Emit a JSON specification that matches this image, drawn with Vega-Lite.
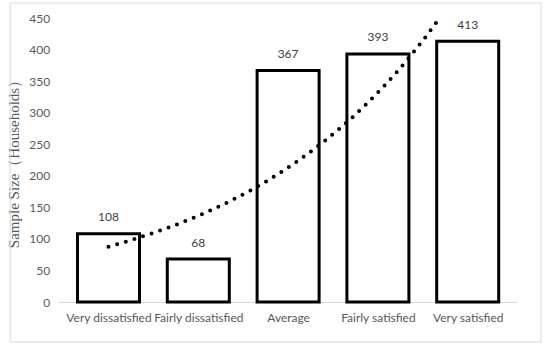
{
  "$schema": "https://vega.github.io/schema/vega-lite/v6.json",
  "width": 459,
  "height": 284,
  "autosize": {"type": "none"},
  "padding": {"left": 58.6, "top": 18, "right": 32.4, "bottom": 45},
  "background": "white",
  "config": {
    "view": {"stroke": null},
    "axisY": {
      "grid": false,
      "ticks": false,
      "domain": false,
      "labelFont": "Lato",
      "labelFontSize": 12,
      "labelColor": "#595959",
      "labelPadding": 9,
      "labelOverlap": false,
      "labelFlush": false,
      "titleFont": "Liberation Serif",
      "titleFontSize": 15,
      "titleFontWeight": "normal",
      "titleColor": "#595959",
      "titlePadding": 7
    }
  },
  "data": {
    "values": [
      {"idx": 1, "category": "Very dissatisfied", "households": 108},
      {"idx": 2, "category": "Fairly dissatisfied", "households": 68},
      {"idx": 3, "category": "Average", "households": 367},
      {"idx": 4, "category": "Fairly satisfied", "households": 393},
      {"idx": 5, "category": "Very satisfied", "households": 413}
    ]
  },
  "layer": [
    {
      "mark": {"type": "bar", "fill": "white", "stroke": "black", "strokeWidth": 3, "size": 62},
      "encoding": {
        "x": {
          "field": "idx",
          "type": "quantitative",
          "scale": {"domain": [0.5, 5.5], "nice": false, "zero": false},
          "axis": {
            "values": [1, 2, 3, 4, 5],
            "labelExpr": "['', 'Very dissatisfied', 'Fairly dissatisfied', 'Average', 'Fairly satisfied', 'Very satisfied'][datum.value]",
            "title": null,
            "grid": false,
            "ticks": false,
            "domainColor": "#d9d9d9",
            "domainWidth": 1,
            "labelFont": "Lato",
            "labelFontSize": 12,
            "labelColor": "#595959",
            "labelPadding": 10,
            "labelOverlap": false,
            "labelFlush": false
          }
        },
        "y": {
          "field": "households",
          "type": "quantitative",
          "scale": {"domain": [0, 450], "nice": false},
          "axis": {
            "values": [0, 50, 100, 150, 200, 250, 300, 350, 400, 450],
            "tickCount": 10,
            "title": "Sample Size（Households）"
          }
        }
      }
    },
    {
      "data": {"values": [{}]},
      "mark": {"type": "rect", "filled": false, "stroke": "#d9d9d9", "strokeWidth": 1},
      "encoding": {
        "x": {"datum": -0.095, "type": "quantitative", "scale": {"domain": [0.5, 5.5], "nice": false, "zero": false}},
        "x2": {"datum": 5.817},
        "y": {
          "datum": 473.8,
          "type": "quantitative",
          "scale": {"domain": [0, 450], "nice": false},
          "axis": {
            "values": [0, 50, 100, 150, 200, 250, 300, 350, 400, 450],
            "tickCount": 10,
            "title": "Sample Size（Households）"
          }
        },
        "y2": {"datum": -63.4}
      }
    },
    {
      "mark": {"type": "text", "baseline": "alphabetic", "dy": -12.5, "font": "Lato", "fontSize": 12, "color": "#404040"},
      "encoding": {
        "x": {"field": "idx", "type": "quantitative", "scale": {"domain": [0.5, 5.5], "nice": false, "zero": false}},
        "y": {
          "field": "households",
          "type": "quantitative",
          "scale": {"domain": [0, 450], "nice": false},
          "axis": {
            "values": [0, 50, 100, 150, 200, 250, 300, 350, 400, 450],
            "tickCount": 10,
            "title": "Sample Size（Households）"
          }
        },
        "text": {"field": "households", "type": "quantitative"}
      }
    },
    {
      "transform": [
        {"calculate": "log(datum.households)", "as": "lnHouseholds"},
        {"regression": "lnHouseholds", "on": "idx", "method": "poly", "order": 1},
        {"calculate": "exp(datum.lnHouseholds)", "as": "trend"}
      ],
      "mark": {"type": "line", "color": "black", "strokeWidth": 4, "strokeDash": [0, 9], "strokeCap": "round", "clip": true},
      "encoding": {
        "x": {"field": "idx", "type": "quantitative", "scale": {"domain": [0.5, 5.5], "nice": false, "zero": false}},
        "y": {
          "field": "trend",
          "type": "quantitative",
          "scale": {"domain": [0, 450], "nice": false},
          "axis": {
            "values": [0, 50, 100, 150, 200, 250, 300, 350, 400, 450],
            "tickCount": 10,
            "title": "Sample Size（Households）"
          }
        }
      }
    }
  ]
}
